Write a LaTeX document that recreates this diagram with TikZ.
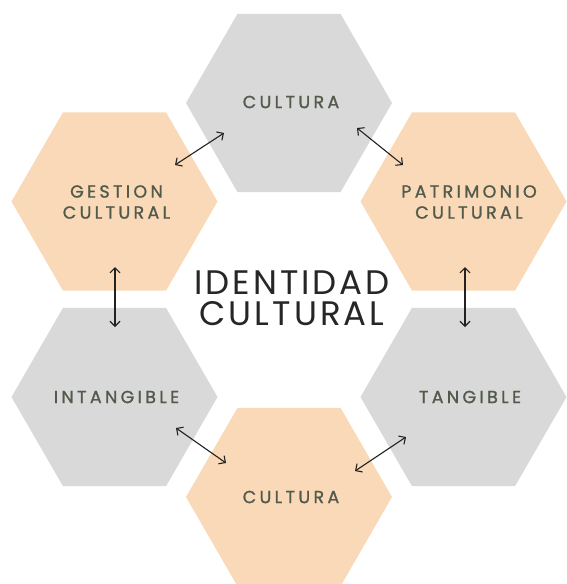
\documentclass[tikz,border=0pt]{standalone}
\usepackage{fontspec}
\usetikzlibrary{arrows.meta}
\newfontfamily\labfont[LetterSpace=19,FakeBold=1.2]{Poppins}
\newfontfamily\titfont[LetterSpace=9]{Poppins}
\definecolor{hexgray}{HTML}{D9D9D9}
\definecolor{hexorange}{HTML}{F9D9B7}
\definecolor{labcol}{HTML}{525A4C}
\definecolor{arrcol}{HTML}{222222}
\tikzset{
  lab/.style={font=\labfont\fontsize{17.5}{21}\selectfont, text=labcol, align=center, inner sep=0pt},
  title/.style={font=\titfont\fontsize{34}{31}\selectfont, text=black!85, align=center, inner sep=0pt},
  link/.style={draw=arrcol, line width=1.1pt, {Straight Barb[length=5pt,width=10pt]}-{Straight Barb[length=5pt,width=10pt]}}
}
\newcommand{\hexagon}[3]{%
  \fill[#3] (#1,#2) +(0:103) -- +(60:103) -- +(120:103) -- +(180:103) -- +(240:103) -- +(300:103) -- cycle;}
\begin{document}
\begin{tikzpicture}[x=1pt,y=-1pt]
\useasboundingbox (0,0) rectangle (566,584);
\fill[white] (0,0) rectangle (566,584);
\hexagon{289}{103}{hexgray}
\hexagon{114.5}{201.5}{hexorange}
\hexagon{463.5}{201.5}{hexorange}
\hexagon{114.5}{397}{hexgray}
\hexagon{463.5}{397}{hexgray}
\hexagon{289}{497}{hexorange}
\node[lab] (top) at (291,102) {CULTURA};
\node[lab] (gest) at (116.5,202) {GESTION\\CULTURAL};
\node[lab] (pat) at (469,202) {PATRIMONIO\\CULTURAL};
\node[lab] (intang) at (116.5,397) {INTANGIBLE};
\node[lab] (tang) at (470,397) {TANGIBLE};
\node[lab] (bot) at (291,497) {CULTURA};
\node[title] (id) at (292,298) {IDENTIDAD\\CULTURAL};
\coordinate (a1) at (175,165);
\coordinate (a2) at (224,133);
\coordinate (b1) at (357,128);
\coordinate (b2) at (403,165);
\coordinate (c1) at (115,267);
\coordinate (c2) at (115,327);
\coordinate (d1) at (465,267);
\coordinate (d2) at (465,327);
\coordinate (e1) at (176,428);
\coordinate (e2) at (226,463);
\coordinate (f1) at (355,471);
\coordinate (f2) at (406,437);
\draw[link] (a1) -- (a2);
\draw[link] (b1) -- (b2);
\draw[link] (c1) -- (c2);
\draw[link] (d1) -- (d2);
\draw[link] (e1) -- (e2);
\draw[link] (f1) -- (f2);
\end{tikzpicture}
\end{document}
